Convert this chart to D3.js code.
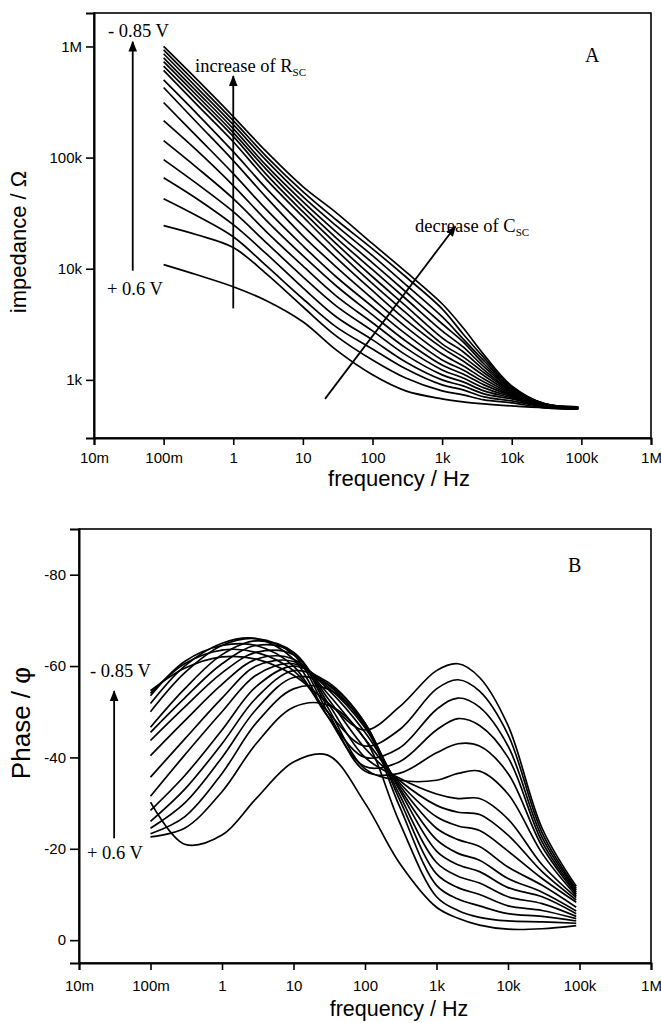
<!DOCTYPE html>
<html><head><meta charset="utf-8">
<script src="https://cdn.jsdelivr.net/npm/d3@7"></script>
<style>body{margin:0;background:#fff}svg{display:block;background:#fff}</style>
</head><body><svg id="chart" width="661" height="1023"></svg>
<script>
// ---------- data ----------
const frequencyHz = [0.1, 0.3, 1, 3, 10, 30, 100, 300, 1000, 2000, 4000, 10000, 30000, 90000];

const xTickValues = [1e-2, 1e-1, 1, 10, 100, 1e3, 1e4, 1e5, 1e6];
const xTickLabels = ["10m", "100m", "1", "10", "100", "1k", "10k", "100k", "1M"];
const impTickValues = [1e3, 1e4, 1e5, 1e6];
const impTickLabels = ["1k", "10k", "100k", "1M"];
const phaseTickValues = [-80, -60, -40, -20, 0];
const phaseTickLabels = ["-80", "-60", "-40", "-20", "0"];
const phaseMinorTicks = [-70, -50, -30, -10];

// impedance |Z| / Ohm, from -0.85 V (imp00) to +0.6 V (imp16)
const imp00 = [1.0e6, 5.05e5, 2.34e5, 1.13e5, 5.48e4, 3.2e4, 1.68e4, 9.4e3, 4.84e3, 2.94e3, 1.68e3, 883, 608, 571];
const imp01 = [9.3e5, 4.64e5, 2.15e5, 1.02e5, 4.94e4, 2.76e4, 1.51e4, 8.47e3, 4.36e3, 2.59e3, 1.58e3, 865, 608, 571];
const imp02 = [8.6e5, 4.27e5, 1.98e5, 9.4e4, 4.45e4, 2.44e4, 1.31e4, 7.18e3, 3.70e3, 2.34e3, 1.48e3, 847, 608, 571];
const imp03 = [7.9e5, 3.93e5, 1.82e5, 8.47e4, 4.02e4, 2.15e4, 1.13e4, 6.21e3, 3.20e3, 2.20e3, 1.39e3, 830, 596, 571];
const imp04 = [7.3e5, 3.62e5, 1.68e5, 7.8e4, 3.62e4, 1.90e4, 9.8e3, 5.37e3, 2.76e3, 1.98e3, 1.31e3, 813, 596, 560];
const imp05 = [6.65e5, 3.33e5, 1.55e5, 7.03e4, 3.26e4, 1.68e4, 8.47e3, 4.64e3, 2.39e3, 1.79e3, 1.23e3, 796, 596, 560];
const imp06 = [6.1e5, 3.0e5, 1.39e5, 6.34e4, 2.94e4, 1.48e4, 7.33e3, 4.02e3, 2.11e3, 1.61e3, 1.16e3, 780, 596, 560];
const imp07 = [5.0e5, 2.49e5, 1.13e5, 5.26e4, 2.44e4, 1.26e4, 6.34e3, 3.47e3, 1.94e3, 1.48e3, 1.09e3, 764, 583, 560];
const imp08 = [4.27e5, 2.07e5, 9.4e4, 4.36e4, 1.98e4, 1.04e4, 5.37e3, 3.0e3, 1.71e3, 1.34e3, 1.02e3, 748, 583, 560];
const imp09 = [3.13e5, 1.55e5, 7.18e4, 3.40e4, 1.61e4, 8.47e3, 4.55e3, 2.59e3, 1.51e3, 1.23e3, 959, 733, 583, 560];
const imp10 = [2.15e5, 1.16e5, 5.6e4, 2.71e4, 1.31e4, 7.03e3, 3.85e3, 2.24e3, 1.36e3, 1.13e3, 902, 718, 583, 560];
const imp11 = [1.42e5, 8.13e4, 4.27e4, 2.15e4, 1.06e4, 5.71e3, 3.27e3, 1.94e3, 1.23e3, 1.04e3, 847, 703, 571, 560];
const imp12 = [9.6e4, 5.83e4, 3.26e4, 1.71e4, 8.47e3, 4.64e3, 2.76e3, 1.68e3, 1.11e3, 959, 796, 689, 571, 548];
const imp13 = [6.6e4, 4.27e4, 2.49e4, 1.36e4, 6.74e3, 3.70e3, 2.29e3, 1.45e3, 1.0e3, 883, 748, 675, 571, 548];
const imp14 = [4.27e4, 3.0e4, 1.94e4, 1.06e4, 5.37e3, 3.0e3, 1.90e3, 1.26e3, 902, 813, 703, 647, 571, 548];
const imp15 = [2.44e4, 2.02e4, 1.55e4, 9.0e3, 4.55e3, 2.49e3, 1.51e3, 1.04e3, 796, 733, 661, 621, 560, 548];
const imp16 = [1.09e4, 8.83e3, 6.89e3, 5.15e3, 3.33e3, 1.86e3, 1.11e3, 796, 675, 634, 608, 583, 560, 548];

// phase / degree, same order
const ph00 = [-54.6, -59.5, -62, -61.5, -58, -52, -46, -51, -59, -60.5, -57.5, -47, -24.5, -11.8];
const ph01 = [-54.0, -60.5, -63.5, -63, -59, -50, -42.5, -46, -55, -57, -54.5, -45, -23.5, -11.3];
const ph02 = [-53.5, -61, -64.5, -64.5, -60, -49, -40, -42, -50.5, -53, -51, -42.5, -22.5, -10.9];
const ph03 = [-51.8, -60, -65, -66, -61.5, -49, -38, -39, -46, -48.5, -47, -40, -21.5, -10.5];
const ph04 = [-50, -58.5, -64.5, -66, -62.5, -50, -37, -36.5, -41, -43, -42.5, -36.5, -20.5, -10.1];
const ph05 = [-46.6, -55, -62.5, -65.5, -63, -51, -37.5, -35, -35, -36.5, -37, -32, -19, -9.7];
const ph06 = [-45.5, -53, -60.5, -64.5, -63, -52, -40, -35.5, -32, -31, -31, -26.5, -16.5, -9.3];
const ph07 = [-43.7, -51, -58.5, -63, -62.5, -53, -42, -35, -29.5, -28, -27.5, -23, -15, -8.8];
const ph08 = [-40.4, -48, -56, -61.5, -61.5, -54, -44, -34.5, -27, -25, -24, -19.5, -13.5, -8.3];
const ph09 = [-35.7, -44, -53, -60, -61, -55, -45.5, -34, -24.5, -22, -20.5, -16, -12, -7.2];
const ph10 = [-31.5, -40.5, -50, -58, -60.5, -55.5, -46.5, -33.5, -22, -19, -17.5, -13.5, -10.5, -6.4];
const ph11 = [-28.4, -36, -46, -55.5, -60, -56, -47, -33, -19.5, -16.5, -15, -11.5, -9.5, -5.8];
const ph12 = [-26, -33, -43, -53, -59, -56.5, -47.5, -32, -17, -14, -12.5, -9.5, -8, -5.2];
const ph13 = [-24.5, -30, -40, -50.5, -57.5, -56, -47.5, -31, -14.5, -11.5, -10, -7.5, -6.5, -4.7];
const ph14 = [-23.3, -27, -36.5, -47.5, -55, -55, -47, -29.5, -12, -9, -7.5, -5.8, -5.2, -4.2];
const ph15 = [-22.6, -24.5, -32.5, -43, -51, -51.5, -44, -26, -9.5, -6.5, -5, -4.2, -4, -3.7];
const ph16 = [-30.2, -21, -23, -31, -39, -40.5, -30, -17, -7.2, -4.8, -3.3, -2.4, -2.5, -3.2];

const impedanceSeries = [imp00, imp01, imp02, imp03, imp04, imp05, imp06, imp07, imp08, imp09, imp10, imp11, imp12, imp13, imp14, imp15, imp16];
const phaseSeries = [ph00, ph01, ph02, ph03, ph04, ph05, ph06, ph07, ph08, ph09, ph10, ph11, ph12, ph13, ph14, ph15, ph16];

// ---------- drawing ----------
const svg = d3.select("#chart");
svg.append("rect").attr("width", 661).attr("height", 1023).attr("fill", "#fff");
const SANS = "'Liberation Sans', Arial, sans-serif";
const SERIF = "'Liberation Serif', 'Times New Roman', serif";

function minorLog(lo, hi) {
  const out = [];
  for (let e = -3; e <= 7; e++) for (let k = 2; k <= 9; k++) {
    const v = k * Math.pow(10, e);
    if (v > lo * 1.0001 && v < hi * 0.9999) out.push(v);
  }
  return out;
}

function drawPanel(o) {
  const g = svg.append("g");
  const x = o.x, y = o.y;
  const [x0, x1] = x.range();
  const [yb, yt] = y.range();
  g.append("rect").attr("x", x0).attr("y", yt).attr("width", x1 - x0).attr("height", yb - yt)
    .attr("fill", "none").attr("stroke", "#000").attr("stroke-width", 1.6);
  const line = d3.line().x(d => x(d[0])).y(d => y(d[1])).curve(d3.curveCatmullRom.alpha(0.5));
  o.series.forEach(s => {
    g.append("path").datum(frequencyHz.map((f, i) => [f, s[i]]))
      .attr("d", line).attr("fill", "none").attr("stroke", "#000").attr("stroke-width", 1.7);
  });
  const xa = g.append("g").attr("transform", `translate(0,${yb})`);
  xa.call(d3.axisBottom(x).tickValues(minorLog(1e-2, 1e6)).tickSize(4).tickFormat(""));
  xa.call(d3.axisBottom(x).tickValues(xTickValues).tickSize(7).tickPadding(o.xPad)
    .tickFormat((d, i) => xTickLabels[i]));
  const ya = g.append("g").attr("transform", `translate(${x0},0)`);
  ya.call(d3.axisLeft(y).tickValues(o.yMinor).tickSize(5).tickFormat(""));
  ya.call(d3.axisLeft(y).tickValues(o.yTicks).tickSize(o.yMajorLen).tickPadding(4)
    .tickFormat((d, i) => o.yLabels[i]));
  g.selectAll(".domain").attr("stroke-width", 2);
  g.selectAll(".tick line").attr("stroke-width", 1.6);
  g.selectAll(".tick text").attr("font-family", SANS).attr("font-size", 15).attr("fill", "#000");
  g.append("text").attr("x", o.xTitle[0]).attr("y", o.xTitle[1]).attr("text-anchor", "middle")
    .attr("font-family", SANS).attr("font-size", o.xTitleSize).text("frequency / Hz");
  g.append("text").attr("transform", `translate(${o.yTitle[0]},${o.yTitle[1]}) rotate(-90)`)
    .attr("text-anchor", "middle").attr("font-family", SANS).attr("font-size", o.yTitleSize).text(o.yTitleText);
  return g;
}

const defs = svg.append("defs");
defs.append("marker").attr("id", "ah").attr("viewBox", "0 0 10 10").attr("refX", 9).attr("refY", 5)
  .attr("markerWidth", 6).attr("markerHeight", 6).attr("markerUnits", "strokeWidth").attr("orient", "auto")
  .append("path").attr("d", "M0,1 L10,5 L0,9 Z").attr("fill", "#000");

function arrow(g, xs, ys, p0, p1) {
  g.append("line").attr("x1", xs(p0[0])).attr("y1", ys(p0[1])).attr("x2", xs(p1[0])).attr("y2", ys(p1[1]))
    .attr("stroke", "#000").attr("stroke-width", 1.8).attr("marker-end", "url(#ah)");
}
function label(g, px, py, txt, sub, size) {
  const t = g.append("text").attr("x", px).attr("y", py).attr("font-family", SERIF)
    .attr("font-size", size || 18.5).text(txt);
  if (sub) t.append("tspan").attr("font-size", 11).attr("dy", 4).text(sub);
}

// Panel A
const xA = d3.scaleLog().domain([1e-2, 1e6]).range([94, 651]);
const yA = d3.scaleLog().domain([300, 2e6]).range([438, 13]);
const gA = drawPanel({
  x: xA, y: yA, series: impedanceSeries, xPad: 7,
  yTicks: impTickValues, yLabels: impTickLabels, yMinor: minorLog(300, 2e6), yMajorLen: 8,
  xTitle: [399, 486], xTitleSize: 22, yTitle: [26, 242], yTitleText: "impedance /  Ω", yTitleSize: 22
});
arrow(gA, xA, yA, [0.036, 9.6e3], [0.036, 1.1e6]);
arrow(gA, xA, yA, [1, 4.4e3], [1, 5.4e5]);
arrow(gA, xA, yA, [20.8, 675], [1.55e3, 2.4e4]);
label(gA, 108, 37, "- 0.85 V");
label(gA, 107, 295, "+ 0.6 V");
label(gA, 195, 72, "increase of R", "SC");
label(gA, 415, 232, "decrease of C", "SC");
label(gA, 585, 62, "A", null, 20);

// Panel B
const xB = d3.scaleLog().domain([1e-2, 1e6]).range([79, 651]);
const yB = d3.scaleLinear().domain([5, -90]).range([963, 529]);
const gB = drawPanel({
  x: xB, y: yB, series: phaseSeries, xPad: 10,
  yTicks: phaseTickValues, yLabels: phaseTickLabels, yMinor: phaseMinorTicks, yMajorLen: 9,
  xTitle: [399, 1016], xTitleSize: 21.5, yTitle: [30, 723], yTitleText: "Phase / φ", yTitleSize: 26
});
arrow(gB, xB, yB, [0.031, -22.3], [0.031, -54.5]);
label(gB, 90, 677, "- 0.85 V");
label(gB, 87, 859, "+ 0.6 V");
label(gB, 568, 572, "B", null, 20);
</script>
</body></html>
